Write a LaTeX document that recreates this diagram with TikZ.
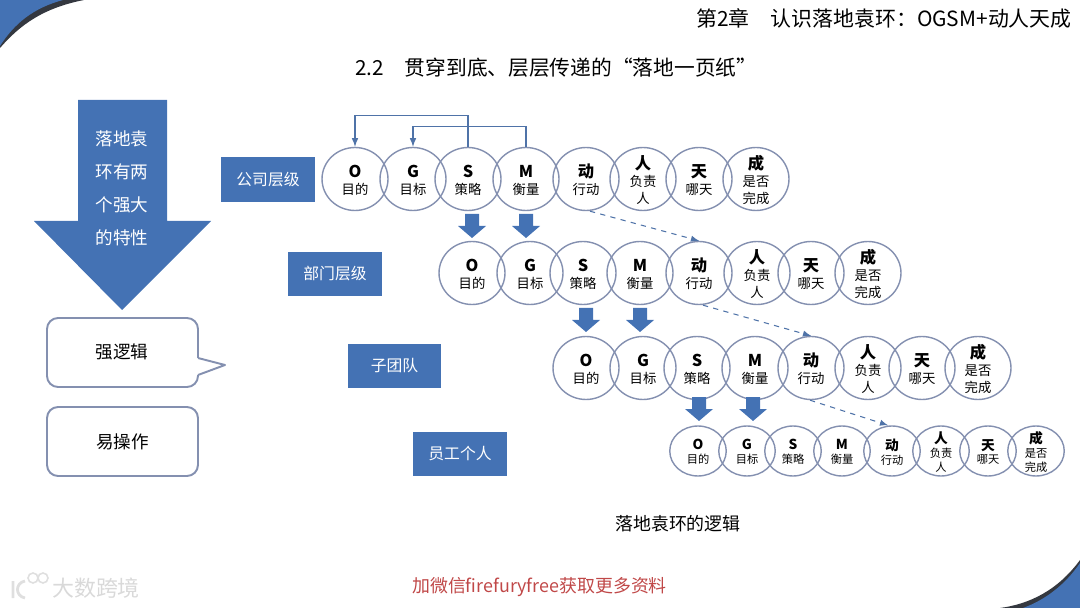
\documentclass[tikz,border=0pt]{standalone}
\usepackage{fontspec}
\setmainfont{Noto Sans CJK SC}
\usepackage{xcolor}
\usetikzlibrary{arrows}
\usetikzlibrary{shapes.geometric}
\definecolor{myblue}{RGB}{68,114,180}
\definecolor{myring}{RGB}{132,144,176}
\definecolor{mylink}{RGB}{79,115,168}
\definecolor{myred}{RGB}{192,72,72}
\definecolor{mydark}{RGB}{52,56,64}
\newcommand{\pxfont}[2]{\fontsize{#1}{#2}\selectfont}
\newcommand{\headch}[1]{\scalebox{1.22}{\textbf{#1}}}
\newcommand{\txtO}{\headch{O}\\目的}
\newcommand{\txtG}{\headch{G}\\目标}
\newcommand{\txtS}{\headch{S}\\策略}
\newcommand{\txtM}{\headch{M}\\衡量}
\newcommand{\txtD}{\headch{动}\\行动}
\newcommand{\txtR}{\headch{人}\\负责\\人}
\newcommand{\txtT}{\headch{天}\\哪天}
\newcommand{\txtC}{\headch{成}\\是否\\完成}
\newcommand{\ogsmrow}[5]{
\foreach \k/\x in {#5} {
\node[#3] (#1\k) at (\x,#2) {};
\node[#4] (#1\k txt) at ([yshift=-0.02cm]#1\k) {\csname txt\k\endcsname};
}
}
\tikzset{
bigring/.style={draw=myring,line width=0.8pt,shape=ellipse,inner sep=0,minimum width=1.32cm,minimum height=1.26cm},
smallring/.style={bigring,minimum width=1.13cm,minimum height=1cm},
bigtxt/.style={align=center,inner sep=0,font=\pxfont{7.6}{9.7}},
smalltxt/.style={align=center,inner sep=0,font=\pxfont{6.4}{7.9}},
levelbox/.style={fill=myblue,text=white,inner sep=0,minimum width=1.88cm,minimum height=0.9cm,font=\pxfont{9}{11}},
plainbox/.style={draw=myring,line width=1.1pt,fill=white,rounded corners=0.22cm,inner sep=0,minimum width=3.02cm,minimum height=1.38cm,font=\pxfont{10}{12}},
uplink/.style={draw=mylink,line width=0.7pt,-latex},
dashlink/.style={draw=mylink,line width=0.6pt,dashed,-latex},
}
\begin{document}
\begin{tikzpicture}[x=0.02cm,y=-0.02cm]
\useasboundingbox (0,0) rectangle (1080,608);

% corners
\fill[mydark] (0,48) .. controls (20,25) and (43,8) .. (84,0) -- (0,0) -- cycle;
\fill[myblue] (0,46) .. controls (14,24) and (33,8) .. (63,0) -- (0,0) -- cycle;
\fill[mydark] (1000,608) .. controls (1030,604) and (1058,590) .. (1080,560) -- (1080,608) -- cycle;
\fill[myblue] (1023,608) .. controls (1045,600) and (1065,585) .. (1080,563) -- (1080,608) -- cycle;

\node[anchor=east,inner sep=0,font=\pxfont{11.9}{14}] (chapter) at (1072,18) {第2章\hspace{1em}认识落地袁环：OGSM+动人天成};
\node[anchor=west,inner sep=0,font=\pxfont{11.8}{14}] (title) at (355,68) {2.2\hspace{1em}贯穿到底、层层传递的“落地一页纸”};

% big arrow
\fill[myblue] (78,100) -- (167,100) -- (167,221) -- (211,221) -- (122,310) -- (34,221) -- (78,221) -- cycle;
\node[align=center,inner sep=0,text=white,font=\pxfont{10}{18.8}] (bigtxt) at (122,188) {落地袁\\环有两\\个强大\\的特性};

\draw[draw=myring,line width=1.1pt,fill=white,rounded corners=0.22cm]
(47,318) -- (198,318) -- (198,387) -- (47,387) -- cycle;
\fill[white] (196,358) rectangle (200,375);
\draw[draw=myring,line width=1.1pt,line join=round] (198,358) -- (225,365) -- (198,375);
\node[inner sep=0,font=\pxfont{10}{12}] (logic) at (122,352) {强逻辑};
\node[plainbox] (easy) at (122.5,441.5) {易操作};

\node[levelbox] (company) at (268,179.5) {公司层级};
\node[levelbox] (dept) at (335,274) {部门层级};
\node[levelbox] (team) at (394.5,366) {子团队};
\node[levelbox] (staff) at (460,454) {员工个人};

\ogsmrow{a}{179}{bigring}{bigtxt}{O/355,G/413,S/468,M/526,D/586,R/643,T/699,C/756}
\ogsmrow{b}{273}{bigring}{bigtxt}{O/472,G/530,S/583,M/640,D/699,R/757,T/811,C/868}
\ogsmrow{c}{368}{bigring}{bigtxt}{O/586,G/643,S/697,M/755,D/811,R/868,T/922,C/978}
\ogsmrow{d}{451}{smallring}{smalltxt}{O/698,G/747,S/793,M/842,D/892,R/941,T/988,C/1036}

\draw[uplink] (aS.north) -- ++(0,-31.5) -| (aO.north);
\draw[uplink] (aM.north) -- ++(0,-20.5) -| (aG.north);

\foreach \x/\y in {472/214,526/214,586/308,640/308,699/397,753/397} {
\fill[myblue] (\x-7,\y) -- (\x+7,\y) -- (\x+7,\y+12) -- (\x+14,\y+12) -- (\x,\y+24) -- (\x-14,\y+12) -- (\x-7,\y+12) -- cycle;
}

\draw[dashlink] (aD.south) ++(4,0) coordinate (astart) -- (bD.north);
\draw[dashlink] (bD.south) ++(4,0) coordinate (bstart) -- (cD.north);
\draw[dashlink] (cD.south) ++(-1,0) coordinate (cstart) -- ([xshift=-0.08cm]dD.north);

\node[inner sep=0,font=\pxfont{10.2}{12}] (caption) at (678,524) {落地袁环的逻辑};
\node[inner sep=0,text=myred,font=\pxfont{10.2}{12}] (contact) at (539.5,587) {加微信firefuryfree获取更多资料};

% watermark
\draw[gray!25,line width=1.6pt] (13,581) -- (13,598) (25,581) .. controls (15,583) and (15,596) .. (25,598);
\draw[gray!25,line width=0.9pt] (33,578) circle (5) (43,578) circle (5);
\node[inner sep=0,text=gray!30,font=\pxfont{12.5}{14}] (mark) at (96,588) {大数跨境};
\end{tikzpicture}
\end{document}
